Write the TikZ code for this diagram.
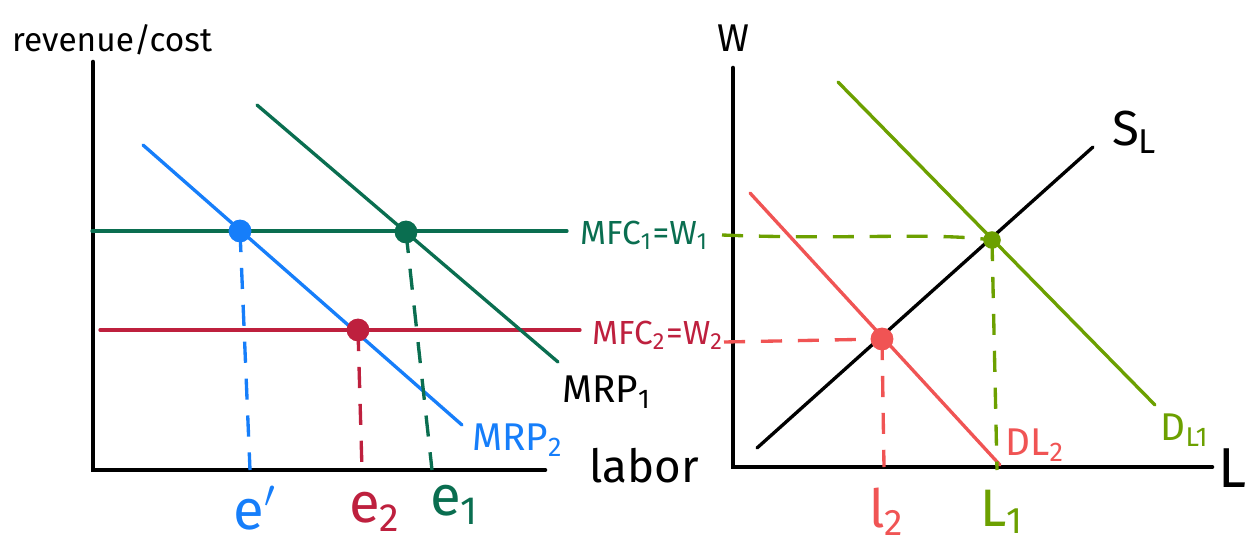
\documentclass[tikz,border=0pt]{standalone}
\usepackage{fontspec}
\setmainfont{Fira Sans}
\definecolor{mrpblue}{RGB}{22,126,250}
\definecolor{firmgreen}{RGB}{10,110,80}
\definecolor{wagered}{RGB}{190,32,62}
\definecolor{mktolive}{RGB}{108,160,0}
\definecolor{mktred}{RGB}{240,84,84}
\tikzset{
  axis/.style={line width=1.3pt,line cap=round},
  curve/.style={line width=0.95pt,line cap=round},
  guide/.style={line width=0.95pt,dash pattern=on 6pt off 4.5pt},
  dot/.style={circle,fill,inner sep=0pt,minimum size=6.5pt},
  lbl/.style={inner sep=1pt,font=\fontsize{11}{13}\selectfont}
}

\begin{document}
\begin{tikzpicture}[x=0.01cm,y=-0.01cm]
  \useasboundingbox (0,0) rectangle (1245,545);
  % firm: axes
  \draw[axis] (93,62) -- (93,470) -- (545,470);
  \node[lbl,anchor=west,font=\fontsize{9.5}{11}\selectfont] (rc) at (8,40) {revenue/cost};
  \node[lbl,anchor=west,font=\fontsize{13}{15}\selectfont] (labor) at (585,466) {labor};
  % firm: wage lines
  \draw[curve,firmgreen] (92,231) -- (567,231);
  \draw[curve,wagered] (100,330) -- (580,330);
  \node[lbl,firmgreen,anchor=west,font=\fontsize{9.5}{11}\selectfont] (mfc1) at (576,235) {MFC\textsubscript{1}=W\textsubscript{1}};
  \node[lbl,wagered,anchor=west,font=\fontsize{9.5}{11}\selectfont] (mfc2) at (588,335) {MFC\textsubscript{2}=W\textsubscript{2}};
  % firm: demand curves
  \draw[curve,mrpblue] (143,145) -- (462,425);
  \draw[curve,firmgreen] (257,105) -- (558,362);
  \node[lbl,mrpblue,anchor=west] (mrp2) at (468,440) {MRP\textsubscript{2}};
  \node[lbl,anchor=west] (mrp1) at (558,392) {MRP\textsubscript{1}};
  % firm: equilibria
  \coordinate (ea) at (240,231);
  \coordinate (eb) at (358,330);
  \coordinate (ec) at (406,232);
  \draw[guide,mrpblue] (ea) -- (250,470);
  \draw[guide,wagered] (eb) -- (362,470);
  \draw[guide,firmgreen] (ec) -- (432,470);
  \node[dot,mrpblue] at (ea) {};
  \node[dot,wagered] at (eb) {};
  \node[dot,firmgreen] at (ec) {};
  \node[lbl,mrpblue,font=\fontsize{16}{18}\selectfont] (eprime) at (255,508) {e$'$};
  \node[lbl,wagered,font=\fontsize{16}{18}\selectfont] (etwo) at (375,512) {e\textsubscript{2}};
  \node[lbl,firmgreen,font=\fontsize{16}{18}\selectfont] (eone) at (455,505) {e\textsubscript{1}};

  % market: axes
  \draw[axis] (733,68) -- (733,467) -- (1212,467);
  \node[lbl] (wax) at (733,38) {W};
  \node[lbl,font=\fontsize{16}{18}\selectfont] (lax) at (1232,468) {L};
  % market: supply and demand
  \draw[curve] (757,448) -- (1093,147);
  \draw[curve,mktolive] (838,82) -- (1155,405);
  \draw[curve,mktred] (750,193) -- (1000,465);
  \node[lbl,font=\fontsize{14}{16}\selectfont] (sl) at (1135,132) {S\textsubscript{L}};
  \node[lbl,mktolive] (dl1) at (1185,430) {D\textsubscript{L1}};
  \node[lbl,mktred] (dl2) at (1035,445) {DL\textsubscript{2}};
  % market: equilibria
  \coordinate (mone) at (992,240);
  \coordinate (mtwo) at (882,339);
  \draw[guide,mktolive] (722,235) .. controls (850,240) and (930,232) .. (mone);
  \draw[guide,mktred] (724,342) -- (mtwo);
  \draw[guide,mktolive] (mone) -- (997,470);
  \draw[guide,mktred] (mtwo) -- (884,467);
  \node[dot,mktolive,minimum size=5pt] at (mone) {};
  \node[dot,mktred] at (mtwo) {};
  \node[lbl,mktred,font=\fontsize{15}{17}\selectfont] (ltwo) at (887,512) {l\textsubscript{2}};
  \node[lbl,mktolive,font=\fontsize{15}{17}\selectfont] (lone) at (1002,512) {L\textsubscript{1}};
\end{tikzpicture}
\end{document}
